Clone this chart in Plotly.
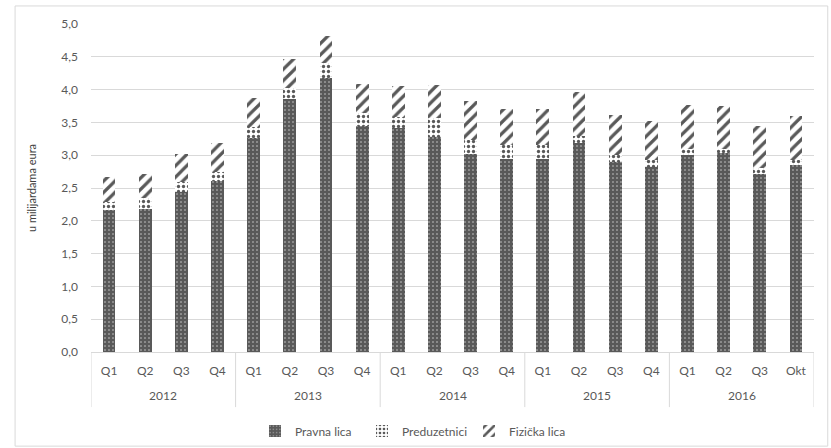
import plotly.graph_objects as go

years = ["2012"] * 4 + ["2013"] * 4 + ["2014"] * 4 + ["2015"] * 4 + ["2016"] * 4
periods = ["Q1", "Q2", "Q3", "Q4"] * 4 + ["Q1", "Q2", "Q3", "Okt"]
year_labels = ["2012", "2013", "2014", "2015", "2016"]

# iznosi u milijardama eura
pravna_lica = [2.16, 2.18, 2.44, 2.60,
               3.26, 3.86, 4.18, 3.45,
               3.41, 3.27, 3.02, 2.94,
               2.94, 3.18, 2.89, 2.82,
               3.01, 3.03, 2.71, 2.85]
preduzetnici = [0.13, 0.17, 0.15, 0.15,
                0.17, 0.16, 0.22, 0.19,
                0.18, 0.29, 0.21, 0.22,
                0.22, 0.11, 0.11, 0.10,
                0.09, 0.07, 0.09, 0.08]
fizicka_lica = [0.38, 0.36, 0.43, 0.43,
                0.44, 0.45, 0.42, 0.44,
                0.46, 0.51, 0.59, 0.54,
                0.55, 0.67, 0.62, 0.60,
                0.67, 0.65, 0.65, 0.67]

DARK = "#595959"
GRID = "#d9d9d9"
TEXT = "#595959"
FONT = "Lato, 'Open Sans', sans-serif"

# jedinstvene kategorije (godina + period), na osi se prikazuje samo period
cats = [f"{y} {p}" for y, p in zip(years, periods)]

fig = go.Figure()
fig.add_trace(go.Bar(
    x=cats, y=pravna_lica, name="Pravna lica",
    marker=dict(color=DARK, line=dict(width=0),
                pattern=dict(shape=".", bgcolor=DARK, fgcolor="#d0d0d0",
                             size=4, solidity=0.12, fillmode="replace")),
))
fig.add_trace(go.Bar(
    x=cats, y=preduzetnici, name="Preduzetnici",
    marker=dict(color="white", line=dict(width=0),
                pattern=dict(shape=".", bgcolor="white", fgcolor=DARK,
                             size=5, solidity=0.35, fillmode="replace")),
))
fig.add_trace(go.Bar(
    x=cats, y=fizicka_lica, name="Fizička lica",
    marker=dict(color="white", line=dict(width=0),
                pattern=dict(shape="/", bgcolor="white", fgcolor=DARK,
                             size=8, solidity=0.4, fillmode="replace")),
))

# drugi nivo ose: godine i razdjelnici između godina
n_per_year = [years.count(y) for y in year_labels]
start = 0
for y, n in zip(year_labels, n_per_year):
    fig.add_annotation(x=start + (n - 1) / 2, xref="x", y=-0.134, yref="paper",
                       text=y, showarrow=False, yanchor="middle",
                       font=dict(size=12, color=TEXT))
    start += n
edges = [-0.5]
acc = -0.5
for n in n_per_year:
    acc += n
    edges.append(acc)
for e in edges:
    fig.add_shape(type="line", xref="x", yref="paper", x0=e, x1=e,
                  y0=0, y1=-0.168, line=dict(color=GRID, width=1))

# okvir oko cijelog grafikona
fig.add_shape(type="rect", xref="paper", yref="paper",
              x0=-0.105, x1=1.019, y0=-0.287, y1=1.055,
              line=dict(color=GRID, width=1), fillcolor="rgba(0,0,0,0)",
              layer="below")

fig.update_layout(
    width=831, height=448,
    margin=dict(l=91, r=17, t=24, b=96),
    paper_bgcolor="white", plot_bgcolor="white",
    barmode="stack", bargap=0.645,
    separators=", ",
    font=dict(family=FONT, size=11, color=TEXT),
    showlegend=True,
    legend=dict(orientation="h", xref="container", yref="container",
                x=0.5, xanchor="center", y=0.038, yanchor="middle",
                font=dict(size=12, color=TEXT), traceorder="normal",
                itemwidth=30, entrywidth=62, entrywidthmode="pixels"),
    xaxis=dict(type="category", showgrid=False,
               showline=True, linecolor=GRID, linewidth=1,
               tickmode="array", tickvals=cats, ticktext=periods,
               ticks="", ticklabelstandoff=8, tickangle=0,
               tickfont=dict(size=12, color=TEXT),
               range=[-0.5, len(cats) - 0.5]),
    yaxis=dict(range=[0, 5], dtick=0.5, tickformat=".1f",
               showgrid=True, gridcolor=GRID, gridwidth=1,
               zeroline=False, showline=False, ticks="",
               ticklabelstandoff=12, tickfont=dict(size=12, color=TEXT),
               title=dict(text="u milijardama eura",
                          font=dict(size=11, color="#404040"),
                          standoff=22)),
)

fig.write_html("out.html")
